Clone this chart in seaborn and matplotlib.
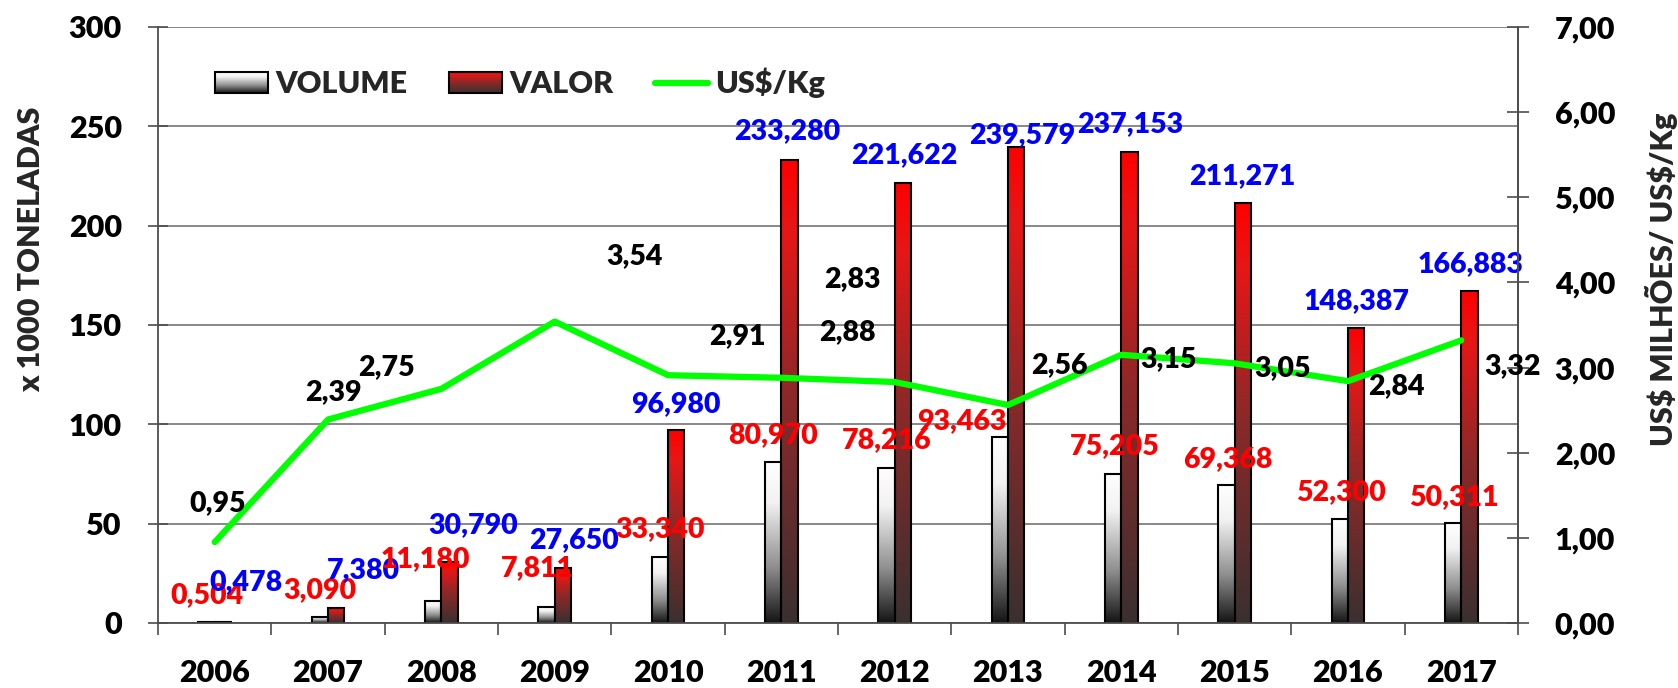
#!/usr/bin/env python3

import matplotlib

matplotlib.use("Agg")
import matplotlib.pyplot as plt
import numpy as np
import pandas as pd
import seaborn as sns
from matplotlib.colors import LinearSegmentedColormap
from matplotlib.image import BboxImage
from matplotlib.legend_handler import HandlerBase
from matplotlib.lines import Line2D
from matplotlib.patches import Patch, Rectangle
from matplotlib.ticker import FuncFormatter, MultipleLocator
from matplotlib.transforms import Bbox, TransformedBbox

# Values
years = ["2006", "2007", "2008", "2009", "2010", "2011",
         "2012", "2013", "2014", "2015", "2016", "2017"]
volume = [0.504, 3.090, 11.180, 7.811, 33.340, 80.970,
          78.216, 93.463, 75.205, 69.368, 52.300, 50.311]
valor = [0.478, 7.380, 30.790, 27.650, 96.980, 233.280,
         221.622, 239.579, 237.153, 211.271, 148.387, 166.883]
us_kg = [0.95, 2.39, 2.75, 3.54, 2.91, 2.88,
         2.83, 2.56, 3.15, 3.05, 2.84, 3.32]

# Label offsets (pixels) - the source chart has hand-dragged labels
vol_dx = [-8, -8, -16, -17, -8, -8, -8, -46, -7, -7, -7, -7]
vol_dy = [29, 29, 44, 42, 30, 29, 30, 19, 30, 29, 29, 28]
val_dx = [31, 35, 32, 19, 8, 6, 10, 14, 9, 8, 9, 9]
val_dy = [42, 41, 39, 30, 29, 31, 30, 14, 30, 30, 30, 30]
kg_dx = [3, 5, -55, 80, 69, 66, -42, 51, 47, 48, 48, 51]
kg_dy = [41, 30, 24, 68, 42, 48, 105, 42, -2, -2, -2, -23]

FS = 22
FS_LABEL = 20.5
WEIGHT = "heavy"
GRAD = np.linspace(0, 1, 256).reshape(-1, 1)

cmap_vol = LinearSegmentedColormap.from_list(
    "vol", [(0, "#141414"), (0.35, "#8f8f8f"), (0.75, "#f2f2f2"), (1, "#ffffff")]
)
cmap_val = LinearSegmentedColormap.from_list(
    "val", [(0, "#3a3030"), (0.5, "#8e2828"), (0.85, "#e81616"), (1, "#ff0000")]
)


class GradientHandler(HandlerBase):
    """Legend box filled with a vertical gradient, like the bars."""

    def __init__(self, cmap):
        super().__init__()
        self.cmap = cmap

    def create_artists(self, legend, orig_handle, xdescent, ydescent,
                       width, height, fontsize, trans):
        box = Bbox.from_bounds(-xdescent, -ydescent, width, height)
        img = BboxImage(TransformedBbox(box, trans), cmap=self.cmap,
                        interpolation="bilinear", origin="lower")
        img.set_data(GRAD)
        rect = Rectangle((-xdescent, -ydescent), width, height,
                         facecolor="none", edgecolor="black",
                         linewidth=1.5, transform=trans)
        return [img, rect]


def comma(v, digits):
    return f"{v:.{digits}f}".replace(".", ",")


def main():
    sns.set_theme(style="white")
    plt.rcParams["font.family"] = ["Lato", "DejaVu Sans"]
    plt.rcParams["font.weight"] = WEIGHT
    plt.rcParams["axes.labelweight"] = WEIGHT

    df = pd.DataFrame({
        "ano": years * 2,
        "valor": volume + valor,
        "serie": ["VOLUME"] * len(years) + ["VALOR"] * len(years),
    })

    fig = plt.figure(figsize=(16.78, 6.88), dpi=100)
    ax = fig.add_axes([0.0942, 0.0945, 0.8104, 0.8663])

    sns.barplot(data=df, x="ano", y="valor", hue="serie",
                hue_order=["VOLUME", "VALOR"], palette=["white", "red"],
                saturation=1, width=0.29, gap=0, errorbar=None,
                edgecolor="black", linewidth=1.5, legend=False, ax=ax)

    # swap flat fills for gradients clipped to each bar
    for patch in list(ax.patches):
        fc = patch.get_facecolor()
        cmap = cmap_vol if fc[1] > 0.5 else cmap_val
        x0, y0 = patch.get_xy()
        w, h = patch.get_width(), patch.get_height()
        patch.set_facecolor("none")
        im = ax.imshow(GRAD, extent=(x0, x0 + w, y0, y0 + h), origin="lower",
                       cmap=cmap, aspect="auto", interpolation="bilinear",
                       zorder=patch.get_zorder() - 0.1)
        im.set_clip_path(patch)

    ax.set_xlim(-0.5, len(years) - 0.5)
    ax.set_ylim(0, 300)
    ax.yaxis.set_major_locator(MultipleLocator(50))
    ax.set_axisbelow(True)
    ax.grid(axis="y", color="#7f7f7f", linewidth=1.3)
    ax.grid(axis="x", visible=False)
    ax.set_xlabel("")
    ax.set_ylabel("")

    ax.spines["top"].set_visible(False)
    for side in ["left", "bottom", "right"]:
        ax.spines[side].set_color("#4d4d4d")
        ax.spines[side].set_linewidth(1.3)

    ax.set_xticks(np.arange(-0.5, len(years), 1), minor=True)
    ax.tick_params(axis="x", which="major", length=0, pad=26,
                   labelsize=FS, colors="black")
    ax.tick_params(axis="x", which="minor", bottom=True, direction="out",
                   length=8.6, width=1.2, color="#4d4d4d")
    ax.tick_params(axis="y", which="major", left=True, direction="inout",
                   length=15, width=1.2, color="#4d4d4d", pad=18.5,
                   labelsize=FS, labelcolor="black")

    # line on the secondary axis
    ax2 = ax.twinx()
    sns.lineplot(x=np.arange(len(years)), y=us_kg, color="#00ff00",
                 linewidth=4.5, ax=ax2)
    ax2.set_ylim(0, 7)
    ax2.set_xlim(-0.5, len(years) - 0.5)
    ax2.yaxis.set_major_locator(MultipleLocator(1))
    ax2.yaxis.set_major_formatter(FuncFormatter(lambda v, p: comma(v, 2)))
    ax2.grid(False)
    for side in ["top", "left", "bottom"]:
        ax2.spines[side].set_visible(False)
    ax2.spines["right"].set_color("#4d4d4d")
    ax2.spines["right"].set_linewidth(1.3)
    ax2.tick_params(axis="y", which="major", right=True, direction="inout",
                    length=16, width=1.2, color="#4d4d4d", pad=18.5,
                    labelsize=FS, labelcolor="black")

    # data labels
    for i in range(len(years)):
        ax.annotate(comma(volume[i], 3), (i, volume[i]),
                    xytext=(vol_dx[i], vol_dy[i]), textcoords="offset pixels",
                    ha="center", va="center_baseline", color="#ff0000",
                    fontsize=FS_LABEL, fontweight=WEIGHT, annotation_clip=False)
        ax.annotate(comma(valor[i], 3), (i, valor[i]),
                    xytext=(val_dx[i], val_dy[i]), textcoords="offset pixels",
                    ha="center", va="center_baseline", color="#0000ff",
                    fontsize=FS_LABEL, fontweight=WEIGHT, annotation_clip=False)
        ax2.annotate(comma(us_kg[i], 2), (i, us_kg[i]),
                     xytext=(kg_dx[i], kg_dy[i]), textcoords="offset pixels",
                     ha="center", va="center_baseline", color="black",
                     fontsize=FS_LABEL, fontweight=WEIGHT, annotation_clip=False)

    # axis titles
    fig.text(31 / 1678, 1 - 249 / 688, "x 1000 TONELADAS", rotation=90,
             ha="center", va="center", fontsize=FS, fontweight=WEIGHT)
    fig.text(1662 / 1678, 1 - 279 / 688, r"US\$ MILHÕES/ US\$/Kg", rotation=90,
             ha="center", va="center", fontsize=FS, fontweight=WEIGHT)

    # legend
    h_vol = Patch(label="VOLUME")
    h_val = Patch(label="VALOR")
    h_kg = Line2D([], [], color="#00ff00", linewidth=4.5, label=r"US\$/Kg")
    ax2.legend(handles=[h_vol, h_val, h_kg],
               handler_map={h_vol: GradientHandler(cmap_vol),
                            h_val: GradientHandler(cmap_val)},
               ncol=3, frameon=False, loc="center left",
               bbox_to_anchor=(0.042, 0.906), borderaxespad=0, borderpad=0,
               handlelength=1.73, handleheight=0.7, handletextpad=0.23,
               columnspacing=1.37, prop={"size": FS, "weight": WEIGHT})

    fig.savefig("out.png", dpi=100)


if __name__ == "__main__":
    main()
